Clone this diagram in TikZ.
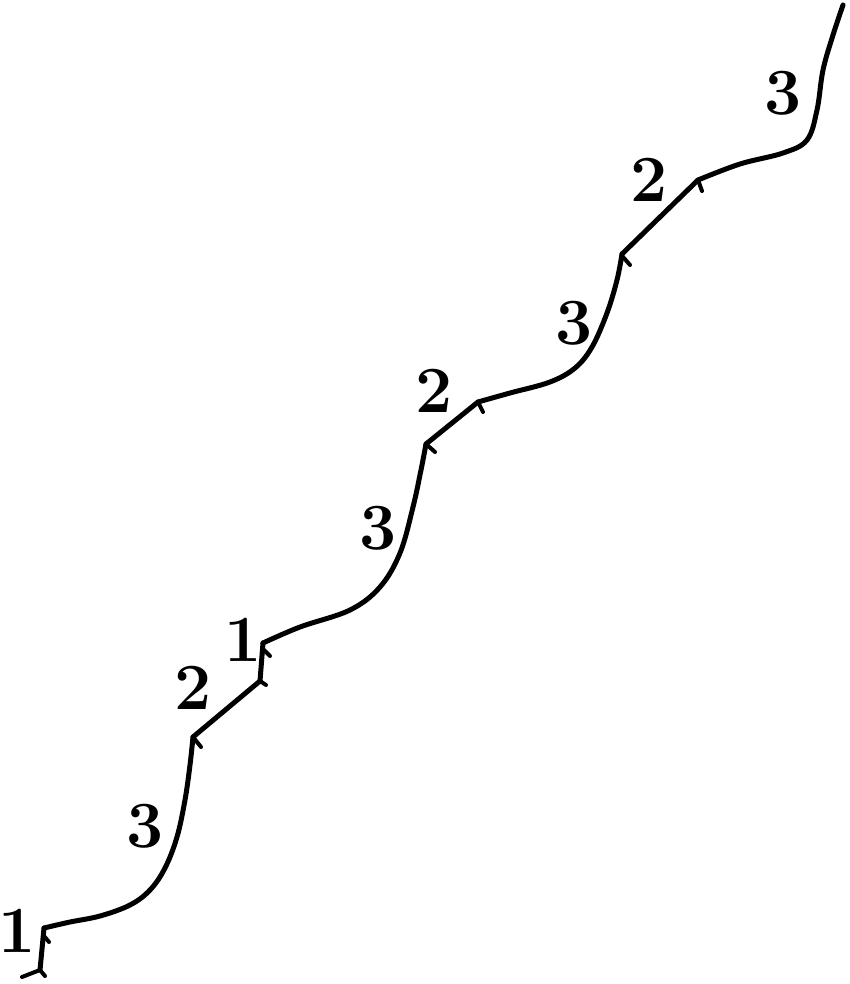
\documentclass[tikz,border=0pt]{standalone}
\usepackage{fontspec}

\tikzset{
  stroke/.style={line width=5pt, line cap=round, line join=round},
  notch/.style={line width=4pt, line cap=round},
  seglabel/.style={font=\fontsize{66}{66}\selectfont\bfseries, inner sep=0pt}
}

\begin{document}
\begin{tikzpicture}[x=1pt,y=-1pt]

    \useasboundingbox (0,0) rectangle (849,984);

    % Junctions
    \coordinate (p0) at (40,970);
    \coordinate (p1) at (44,928);
    \coordinate (p2) at (193,737);
    \coordinate (p3) at (260,681);
    \coordinate (p4) at (263,643);
    \coordinate (p5) at (426,444);
    \coordinate (p6) at (478,402);
    \coordinate (p7) at (622,254);
    \coordinate (p8) at (698,180);
    \coordinate (p9) at (843,5);

    % Steps
    \draw[stroke] (p0) -- (p1);
    \draw[stroke] plot[smooth, tension=0.6] coordinates {(p1) (70,922) (100,916) (130,905) (150,890) (165,868) (177,837) (185,800) (190,765) (p2)};
    \draw[stroke] (p2) -- (p3);
    \draw[stroke] (p3) -- (p4);
    \draw[stroke] plot[smooth, tension=0.6] coordinates {(p4) (300,627) (350,610) (380,587) (400,553) (413,507) (421,470) (p5)};
    \draw[stroke] (p5) -- (p6);
    \draw[stroke] plot[smooth, tension=0.6] coordinates {(p6) (510,393) (550,382) (575,368) (592,347) (607,313) (617,280) (p7)};
    \draw[stroke] (p7) -- (p8);
    \draw[stroke] plot[smooth, tension=0.6] coordinates {(p8) (740,164) (783,153) (807,140) (817,110) (823,70) (833,35) (p9)};

    % Notches
    \draw[notch] (22,977) -- (p0) -- (45,976);
    \draw[notch] (p1) ++(0,8) -- ++(5,6);
    \draw[notch] (p2) -- ++(8,10);
    \draw[notch] (p3) -- ++(6,4);
    \draw[notch] (p4) ++(1,7) -- ++(6,6);
    \draw[notch] (p5) -- ++(9,8);
    \draw[notch] (p6) -- ++(5,10);
    \draw[notch] (p7) ++(1,3) -- ++(7,8);
    \draw[notch] (p8) -- ++(4,11);

    % Labels
    \node[seglabel] (l1) at (17,931) {1};
    \node[seglabel] (l2) at (145,826) {3};
    \node[seglabel] (l3) at (193,688) {2};
    \node[seglabel] (l4) at (243,640) {1};
    \node[seglabel] (l5) at (378,528) {3};
    \node[seglabel] (l6) at (434,391) {2};
    \node[seglabel] (l7) at (574,323) {3};
    \node[seglabel] (l8) at (649,180) {2};
    \node[seglabel] (l9) at (783,93) {3};

\end{tikzpicture}
\end{document}
